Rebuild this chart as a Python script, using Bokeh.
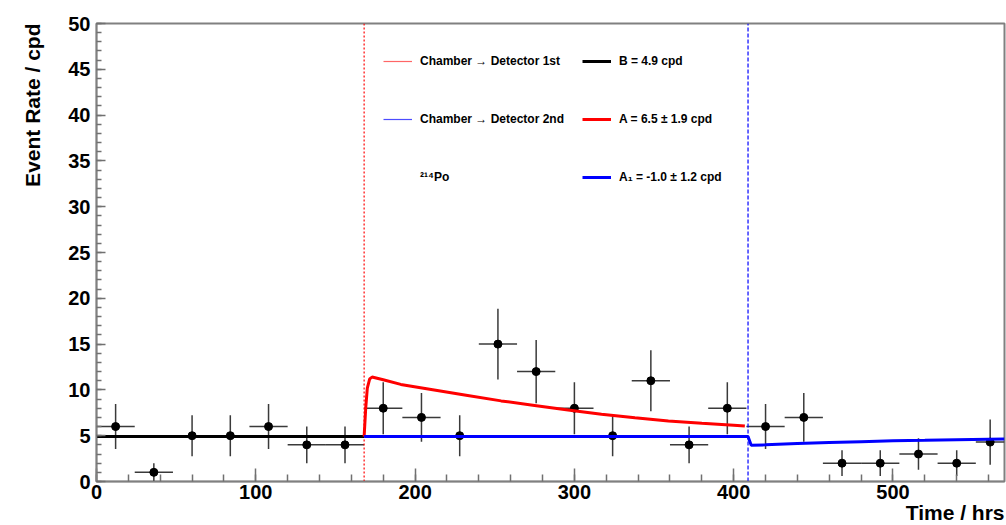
from bokeh.plotting import figure
from bokeh.models import (Range1d, SingleIntervalTicker, Legend, LegendItem, Title,
                          ColumnDataSource)
from bokeh.embed import file_html
from bokeh.resources import INLINE

# ---------------- data ----------------
bin_center = [12, 36, 60, 84, 108, 132, 156, 180, 204, 228, 252, 276, 300, 324,
              348, 372, 396, 420, 444, 468, 492, 516, 540, 561]
bin_halfwidth = [12, 12, 12, 12, 12, 12, 12, 12, 12, 12, 12, 12, 12, 12,
                 12, 12, 12, 12, 12, 12, 12, 12, 12, 9]
rate = [6, 1, 5, 5, 6, 4, 4, 8, 7, 5, 15, 12, 8, 5, 11, 4, 8, 6, 7, 2, 2, 3, 2, 4.3]
rate_err = [2.45, 1.0, 2.24, 2.24, 2.45, 2.0, 2.0, 2.83, 2.65, 2.24, 3.87, 3.46,
            2.83, 2.24, 3.32, 2.0, 2.83, 2.45, 2.65, 1.41, 1.41, 1.73, 1.41, 2.48]

# fitted model curves
black_t = [0, 168]
black_y = [4.9, 4.9]
red_t = [168, 169, 170, 171.5, 173, 180, 191, 212, 233, 254, 275, 296, 317, 338,
         359, 380, 400, 407]
red_y = [4.9, 8.0, 10.2, 11.2, 11.4, 11.1, 10.6, 10.0, 9.4, 8.8, 8.3, 7.8, 7.35,
         6.95, 6.6, 6.35, 6.15, 6.05]
blue_t = [168, 409, 411, 420, 440, 460, 480, 500, 520, 540, 570]
blue_y = [4.9, 4.9, 3.95, 4.0, 4.15, 4.25, 4.35, 4.45, 4.5, 4.57, 4.65]

change_times = [168, 409]
change_labels = ["Chamber \u2192 Detector 1st", "Chamber \u2192 Detector 2nd"]
fit_labels = ["B = 4.9 cpd", "A = 6.5 \u00b1 1.9 cpd", "A\u2081 = -1.0 \u00b1 1.2 cpd"]
isotope_label = "\u00b2\u00b9\u2074Po"
x_title = "Time / hrs"
y_title = "Event Rate / cpd"

x_range = (0, 570)
y_range = (0, 50)

FONT = "Liberation Sans"

# ---------------- figure ----------------
p = figure(width=1006, height=525, output_backend="svg", toolbar_location=None,
           x_range=Range1d(*x_range), y_range=Range1d(*y_range),
           min_border_left=96, min_border_right=2, min_border_top=23,
           min_border_bottom=44)
p.grid.visible = False
p.outline_line_color = "#808080"
p.outline_line_width = 2
p.background_fill_color = "white"
p.border_fill_color = "white"

p.xaxis.ticker = SingleIntervalTicker(interval=100, num_minor_ticks=5)
p.yaxis.ticker = SingleIntervalTicker(interval=5, num_minor_ticks=5)
for ax in (p.xaxis, p.yaxis):
    ax.axis_line_color = "#808080"
    ax.axis_line_width = 1.5
    ax.major_tick_line_color = "#707070"
    ax.minor_tick_line_color = "#707070"
    ax.major_tick_line_width = 1.5
    ax.minor_tick_line_width = 1.5
    ax.major_tick_out = 0
    ax.minor_tick_out = 0
    ax.major_label_text_font = FONT
    ax.major_label_text_font_style = "bold"
    ax.major_label_text_font_size = "20px"
    ax.major_label_text_color = "black"
p.xaxis.major_tick_in = 13
p.xaxis.minor_tick_in = 7
p.yaxis.major_tick_in = 9
p.yaxis.minor_tick_in = 5
p.xaxis.major_label_standoff = 3
p.yaxis.major_label_standoff = 6

# ---------------- data points ----------------
src = ColumnDataSource(dict(
    x=bin_center,
    x0=[c - h for c, h in zip(bin_center, bin_halfwidth)],
    x1=[c + h for c, h in zip(bin_center, bin_halfwidth)],
    y=rate,
    y0=[r - e for r, e in zip(rate, rate_err)],
    y1=[r + e for r, e in zip(rate, rate_err)],
))
p.segment(x0="x0", y0="y", x1="x1", y1="y", source=src, line_color="#3a3a3a",
          line_width=1.5)
p.segment(x0="x", y0="y0", x1="x", y1="y1", source=src, line_color="#3a3a3a",
          line_width=1.5)
p.scatter(x="x", y="y", source=src, size=8, color="black")

# ---------------- vertical change lines ----------------
p.segment(x0=[change_times[0]], y0=[y_range[0]], x1=[change_times[0]],
          y1=[y_range[1]], line_color="red", line_width=1.2, line_dash="2 2")
p.segment(x0=[change_times[1]], y0=[y_range[0]], x1=[change_times[1]],
          y1=[y_range[1]], line_color="blue", line_width=1.2, line_dash="4 2")

# legend proxies for the change lines: same times, lying above the visible
# y-range so that only their legend sample is seen
above = [y_range[1] + 10, y_range[1] + 20]
r_v1 = p.line(x=[change_times[0]] * 2, y=above, line_color="red",
              line_alpha=0.6, line_width=1.2)
r_v2 = p.line(x=[change_times[1]] * 2, y=above, line_color="blue",
              line_alpha=0.7, line_width=1.2)
r_dummy = p.line(x=[change_times[0]] * 2, y=above, line_alpha=0)

# ---------------- fit curves ----------------
r_black = p.line(black_t, black_y, line_color="black", line_width=3)
r_red = p.line(red_t, red_y, line_color="#ff0000", line_width=3)
r_blue = p.line(blue_t, blue_y, line_color="#0000ff", line_width=3)

# ---------------- legends ----------------
def make_legend(items, loc):
    return Legend(items=items, location=loc, orientation="vertical",
                  glyph_width=29, glyph_height=16, label_height=16,
                  label_standoff=8, spacing=42, padding=0, margin=0,
                  border_line_alpha=0, background_fill_alpha=0,
                  label_text_font=FONT, label_text_font_style="bold",
                  label_text_font_size="12px", label_text_color="black")

lg1 = make_legend([LegendItem(label=change_labels[0], renderers=[r_v1]),
                   LegendItem(label=change_labels[1], renderers=[r_v2]),
                   LegendItem(label=isotope_label, renderers=[r_dummy])],
                  (287, 296))
lg2 = make_legend([LegendItem(label=fit_labels[0], renderers=[r_black]),
                   LegendItem(label=fit_labels[1], renderers=[r_red]),
                   LegendItem(label=fit_labels[2], renderers=[r_blue])],
                  (486, 296))
p.add_layout(lg1)
p.add_layout(lg2)

# ---------------- axis titles ----------------
p.add_layout(Title(text=x_title, align="right", text_font=FONT,
                   text_font_style="bold", text_font_size="21px",
                   text_color="black", standoff=-6, offset=0), "below")
p.add_layout(Title(text=y_title, align="right", vertical_align="top",
                   text_font=FONT, text_font_style="bold", text_font_size="21px",
                   text_color="black", standoff=40, offset=0), "left")

open("out.html", "w").write(file_html(p, INLINE))
